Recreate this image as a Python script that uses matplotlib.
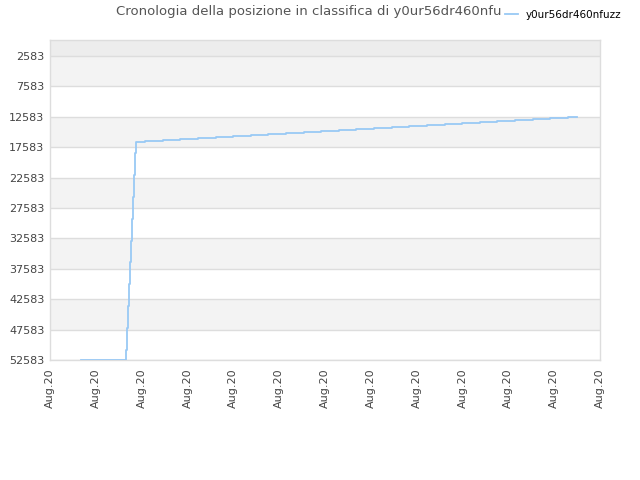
import matplotlib
matplotlib.use("Agg")
import matplotlib.pyplot as plt

# --- data (x in tick units, 0..12 ; y = ranking position) ---
x_vals = [0.676, 1.658, 1.680, 1.702, 1.724, 1.739, 1.761, 1.783, 1.804, 1.826, 1.848,
          1.876, 2.079, 2.472, 2.836, 3.236, 3.622, 3.999, 4.386, 4.763, 5.149, 5.542,
          5.919, 6.306, 6.683, 7.069, 7.462, 7.839, 8.232, 8.612, 8.989, 9.382, 9.759,
          10.152, 10.532, 10.909, 11.302, 11.492]
ranks = [52583, 50938, 47320, 43701, 40083, 36465, 32961, 29392, 25774, 22155, 18488,
         16728, 16530, 16365, 16200, 16035, 15870, 15705, 15540, 15375, 15210, 15045,
         14880, 14715, 14550, 14385, 14220, 14055, 13890, 13725, 13560, 13395, 13230,
         13065, 12900, 12735, 12570, 12570]
y_ticks = [2583, 7583, 12583, 17583, 22583, 27583, 32583, 37583, 42583, 47583, 52583]
x_ticks = list(range(13))
x_labels = ["Aug.20"] * 13
series_name = "y0ur56dr460nfuzz"
title = "Cronologia della posizione in classifica di y0ur56dr460nfuzz"

fig = plt.figure(figsize=(6.4, 4.8), dpi=100)
ax = fig.add_axes([50/640, 120/480, 550/640, 320/480])

y_top = -40
ax.set_xlim(0, 12)
ax.set_ylim(52583, y_top)

# background bands
ax.axhspan(y_top, y_ticks[0], color="#ededed", zorder=0, lw=0)
for i in range(len(y_ticks) - 1):
    c = "#f3f3f3" if i % 2 == 0 else "#ffffff"
    ax.axhspan(y_ticks[i], y_ticks[i + 1], color=c, zorder=0, lw=0)
for t in y_ticks:
    ax.axhline(t, color="#dddddd", lw=1, zorder=1)

line, = ax.plot(x_vals, ranks, drawstyle="steps-post", color="#99c9f5", lw=1.3,
                zorder=3, label=series_name)

ax.set_yticks(y_ticks)
ax.set_yticklabels([str(t) for t in y_ticks])
ax.set_xticks(x_ticks)
ax.set_xticklabels(x_labels, rotation=90)
ax.tick_params(axis="both", length=0, labelsize=8, colors="#444444", pad=4)
ax.tick_params(axis="x", pad=6)
for s in ax.spines.values():
    s.set_color("#dddddd")
    s.set_linewidth(1)

fig.text(116/640, 1 - 12/480, title, ha="left", va="center", fontsize=9.5,
         color="#555555")
leg = fig.legend(handles=[line], loc="center left", bbox_to_anchor=(502/640, 1 - 15/480),
                 frameon=True, fontsize=7.5, handlelength=1.2, handletextpad=0.8,
                 borderpad=0.3, borderaxespad=0)
leg.get_frame().set_facecolor("white")
leg.get_frame().set_edgecolor("white")
leg.get_frame().set_alpha(1)
leg.get_frame().set_boxstyle("square", pad=0)
leg.set_zorder(10)

fig.savefig("out.png", dpi=100)
